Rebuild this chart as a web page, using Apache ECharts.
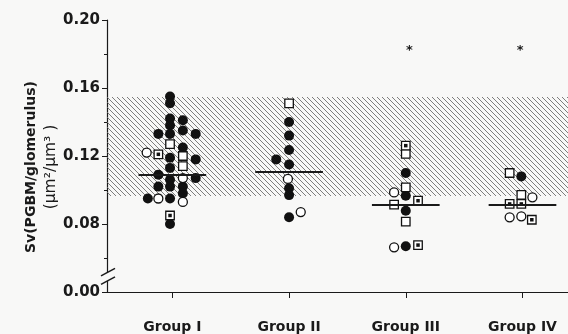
<!DOCTYPE html>
<html>
<head>
<meta charset="utf-8">
<script src="https://cdn.jsdelivr.net/npm/echarts@6.0.0/dist/echarts.min.js"></script>
<style>html,body{margin:0;padding:0;background:#f8f8f7}#c{width:568px;height:334px}</style>
</head>
<body>
<div id="c"></div>
<script>
// ---- data ----
const categories = ['Group I', 'Group II', 'Group III', 'Group IV'];
// [x position (group index + jitter), Sv value]
const filledCircles = [
  [0.98,0.155],[0.98,0.151],[0.98,0.142],[1.09,0.141],[0.98,0.138],[0.88,0.133],[0.98,0.133],
  [1.09,0.135],[1.20,0.133],[1.09,0.125],[0.98,0.119],[1.20,0.118],[0.98,0.113],[0.88,0.109],
  [0.98,0.106],[1.20,0.107],[0.88,0.102],[0.98,0.102],[1.09,0.102],[1.09,0.098],[0.79,0.095],
  [0.98,0.095],[0.98,0.080],
  [2.00,0.140],[2.00,0.132],[2.00,0.1235],[1.89,0.118],[2.00,0.115],[2.00,0.101],[2.00,0.097],[2.00,0.084],
  [3.00,0.110],[3.00,0.0966],[3.00,0.0878],[3.00,0.0669],
  [3.99,0.108]
];
const openCircles = [
  [0.78,0.122],[1.09,0.107],[0.88,0.095],[1.09,0.093],
  [1.99,0.1065],[2.10,0.087],
  [2.90,0.0986],[2.90,0.0663],
  [4.085,0.0957],[3.89,0.0839],[3.99,0.0845]
];
const openSquares = [
  [0.98,0.127],[1.09,0.120],[1.09,0.114],
  [2.00,0.151],
  [3.00,0.1212],[3.00,0.1016],[2.90,0.0914],[3.00,0.0814],
  [3.89,0.110],[3.99,0.0971]
];
const dottedSquares = [
  [0.88,0.121],[0.98,0.085],
  [3.00,0.1261],[3.105,0.0937],[3.105,0.0676],
  [3.89,0.0918],[3.99,0.0918],[4.08,0.0825]
];
const groupMeans = [0.109, 0.111, 0.0914, 0.0914];
const normalRange = [0.0965, 0.1547];
const significant = [[3.03, 0.184], [3.98, 0.184]];
const yAxisBreakValue = 0.04;   // axis position standing for 0.00 (broken axis)
const yTickValues = [0.04, 0.08, 0.12, 0.16, 0.20];

// ---- hatch pattern ----
function hatch() {
  const s = 5;
  const c = document.createElement('canvas');
  c.width = s; c.height = s;
  const g = c.getContext('2d');
  g.strokeStyle = '#6e6e6e';
  g.lineWidth = 0.9;
  g.beginPath();
  g.moveTo(-1, -1); g.lineTo(s + 1, s + 1);
  g.moveTo(-1, s - 1); g.lineTo(1, s + 1);
  g.moveTo(s - 1, -1); g.lineTo(s + 1, 1);
  g.stroke();
  return c;
}

const chart = echarts.init(document.getElementById('c'), null, {renderer: 'canvas'});
const ink = '#1a1a1a';
const halfW = 0.29;

chart.setOption({
  backgroundColor: '#f8f8f7',
  animation: false,
  grid: {left: 107, right: 0, top: 20, bottom: 42, outerBoundsMode: 'none'},
  xAxis: {
    type: 'value', min: 0.44, max: 4.39,
    splitLine: {show: false},
    axisLine: {lineStyle: {color: ink, width: 1.2}},
    axisTick: {customValues: [1, 2, 3, 4], length: 6, lineStyle: {color: ink}},
    axisLabel: {
      customValues: [1, 2, 3, 4],
      formatter: v => categories[Math.round(v) - 1],
      margin: 28,
      color: ink, fontFamily: 'DejaVu Sans', fontWeight: 'bold', fontSize: 14
    }
  },
  yAxis: {
    type: 'value', min: yAxisBreakValue, max: 0.20, interval: 0.04,
    splitLine: {show: false},
    axisLine: {show: true, lineStyle: {color: ink, width: 1.2}},
    axisTick: {customValues: yTickValues, length: 5, lineStyle: {color: ink}},
    minorTick: {show: true, splitNumber: 2, length: 3, lineStyle: {color: ink}},
    axisLabel: {
      customValues: yTickValues,
      formatter: v => (v < 0.05 ? 0 : v).toFixed(2),
      margin: 7,
      color: ink, fontFamily: 'DejaVu Sans', fontWeight: 'bold', fontSize: 15
    },
    name: '{a|Sv(PGBM/glomerulus)}\n{b|(µm²/µm³ )}',
    nameLocation: 'middle',
    nameRotate: 90,
    nameGap: 46,
    nameMoveOverlap: false,
    nameTextStyle: {
      color: ink, padding: [0, 22, 0, 0], lineHeight: 20,
      rich: {
        a: {fontFamily: 'DejaVu Sans', fontWeight: 'bold', fontSize: 14, lineHeight: 20, color: ink},
        b: {fontFamily: 'DejaVu Sans', fontWeight: 'normal', fontSize: 15.5, lineHeight: 20, color: ink}
      }
    }
  },
  series: [
    {
      type: 'scatter', name: 'mean', data: [], z: 1, silent: true,
      markArea: {
        silent: true,
        itemStyle: {color: {image: hatch(), repeat: 'repeat'}},
        data: [[{yAxis: normalRange[0]}, {yAxis: normalRange[1]}]]
      },
      markLine: {
        silent: true, symbol: 'none', label: {show: false},
        lineStyle: {color: ink, width: 2, type: 'solid'},
        data: groupMeans.map((m, i) => [{coord: [i + 1 - halfW, m]}, {coord: [i + 1 + halfW, m]}])
      }
    },
    {
      type: 'scatter', name: 'filled', data: filledCircles, z: 3,
      symbol: 'circle', symbolSize: 10,
      itemStyle: {color: '#111', opacity: 1}
    },
    {
      type: 'scatter', name: 'open circle', data: openCircles, z: 3,
      symbol: 'circle', symbolSize: 9,
      itemStyle: {color: '#fff', borderColor: '#111', borderWidth: 1.3, opacity: 1}
    },
    {
      type: 'scatter', name: 'open square', data: openSquares, z: 3,
      symbol: 'rect', symbolSize: 8.5,
      itemStyle: {color: '#fff', borderColor: '#111', borderWidth: 1.3, opacity: 1}
    },
    {
      type: 'scatter', name: 'dotted square', data: dottedSquares, z: 3,
      symbol: 'rect', symbolSize: 8.5,
      itemStyle: {color: '#fff', borderColor: '#111', borderWidth: 1.3, opacity: 1}
    },
    {
      type: 'scatter', name: 'dotted square centre', data: dottedSquares, z: 4,
      symbol: 'rect', symbolSize: 3.5,
      itemStyle: {color: '#111', opacity: 1}
    },
    {
      type: 'scatter', name: 'significance', data: significant, z: 4,
      symbol: 'circle', symbolSize: 1, itemStyle: {color: 'rgba(0,0,0,0)'},
      label: {show: true, position: 'inside', formatter: '*', color: ink, opacity: 1,
        fontFamily: 'DejaVu Sans', fontWeight: 'bold', fontSize: 13, offset: [0, 3]}
    }
  ]
});

// axis-break marks on the y axis, placed through the axis scale
const ax = chart.convertToPixel({xAxisIndex: 0}, 0.44);
const y1 = chart.convertToPixel({yAxisIndex: 0}, 0.0515);
const y2 = chart.convertToPixel({yAxisIndex: 0}, 0.0465);
chart.setOption({
  graphic: [
    {type: 'rect', shape: {x: ax - 3, y: y1, width: 6, height: y2 - y1}, style: {fill: '#f8f8f7'}, z: 100},
    {type: 'line', shape: {x1: ax - 6, y1: y1 + 3.5, x2: ax + 8, y2: y1 - 4}, style: {stroke: ink, lineWidth: 1.5}, z: 101},
    {type: 'line', shape: {x1: ax - 6, y1: y2 + 3.5, x2: ax + 8, y2: y2 - 4}, style: {stroke: ink, lineWidth: 1.5}, z: 101}
  ]
});
</script>
</body>
</html>
